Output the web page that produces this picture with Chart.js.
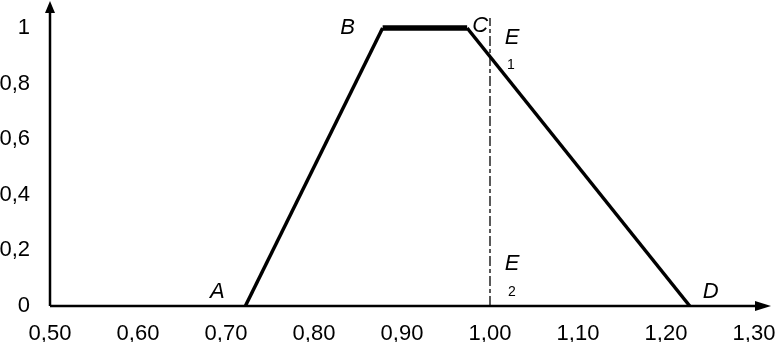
<!DOCTYPE html>
<html>
<head>
<meta charset="utf-8">
<script src="https://cdn.jsdelivr.net/npm/chart.js@4"></script>
<style>
  html, body { margin: 0; padding: 0; background: #fff; }
  canvas { display: block; }
</style>
</head>
<body>
<canvas id="myChart" width="776" height="342"></canvas>
<script>
// trapezoid A-B-C-D
const pointNames = ['A', 'B', 'C', 'D'];
const xValues = [0.722, 0.878, 0.974, 1.227];
const yValues = [0, 1, 1, 0];

// vertical dash-dot line at x = 1,00
const markerX = [1.0, 1.0];
const markerY = [0, 1.036];

const FONT = '"Liberation Sans", Arial, sans-serif';

const fmtX = (v) => v.toFixed(2).replace('.', ',');
const fmtY = (v) => (v === 0 || v === 1) ? String(v) : v.toFixed(1).replace('.', ',');

// letter labels: [text, x value, y value, dx, dy, italic, size]
const letterLabels = [
   ['A', xValues[0], yValues[0], -28, -14, true, 22],
   ['B', xValues[1], yValues[1], -35, 0, true, 22],
   ['C', xValues[2], yValues[2], 13, -2, true, 22],
   ['D', xValues[3], yValues[3], 21, -14, true, 22],
   ['E', markerX[0], 1, 22, 10, true, 22],
   ['1', markerX[0], 1, 21, 37, false, 14],
   ['E', markerX[0], 0, 22, -42, true, 22],
   ['2', markerX[0], 0, 22, -14, false, 14],
];

const axesPlugin = {
   id: 'axes',
   afterDatasetsDraw(chart) {
      const c = chart.ctx;
      const a = chart.chartArea;
      const x0 = a.left, y0 = a.bottom;
      c.save();
      c.strokeStyle = '#000';
      c.fillStyle = '#000';
      c.lineWidth = 2.5;
      c.beginPath();
      c.moveTo(x0, y0);
      c.lineTo(x0, 8);
      c.moveTo(x0, y0);
      c.lineTo(762, y0);
      c.stroke();
      // arrow heads
      c.beginPath();
      c.moveTo(x0, 1);
      c.lineTo(x0 - 5, 13);
      c.lineTo(x0 + 5, 13);
      c.closePath();
      c.fill();
      c.beginPath();
      c.moveTo(771, y0);
      c.lineTo(755, y0 - 5);
      c.lineTo(755, y0 + 5);
      c.closePath();
      c.fill();

      // letters
      const xs = chart.scales.x, ys = chart.scales.y;
      c.textAlign = 'center';
      c.textBaseline = 'middle';
      for (let l of letterLabels) {
         c.font = (l[5] ? 'italic ' : '') + l[6] + 'px ' + FONT;
         c.fillText(l[0], xs.getPixelForValue(l[1]) + l[3], ys.getPixelForValue(l[2]) + l[4]);
      }
      c.restore();
   }
};

const config = {
   type: 'line',
   data: {
      datasets: [
         {
            data: xValues.map((x, i) => ({ x: x, y: yValues[i] })),
            borderColor: '#000',
            borderWidth: 3.5,
            pointRadius: 0,
            tension: 0,
            clip: false,
            borderJoinStyle: 'miter',
            segment: {
               borderWidth: (ctx) => (ctx.p0.parsed.y === 1 && ctx.p1.parsed.y === 1) ? 5.5 : 3.5
            }
         },
         {
            data: markerX.map((x, i) => ({ x: x, y: markerY[i] })),
            borderColor: '#000',
            borderWidth: 1.3,
            borderDash: [10, 3, 4, 3],
            pointRadius: 0,
            clip: false
         }
      ]
   },
   plugins: [axesPlugin],
   options: {
      responsive: false,
      animation: false,
      devicePixelRatio: 1,
      layout: { padding: { top: 28, right: 22, left: 0, bottom: 0 } },
      plugins: { legend: { display: false }, tooltip: { enabled: false } },
      scales: {
         x: {
            type: 'linear',
            min: 0.5,
            max: 1.3,
            afterFit: (s) => { s.height = 36; s.paddingLeft = 0; s.paddingRight = 0; },
            grid: { display: false, drawTicks: false },
            border: { display: false },
            ticks: {
               stepSize: 0.1,
               padding: 15,
               color: '#000',
               maxRotation: 0,
               autoSkip: false,
               font: { family: FONT, size: 22 },
               callback: (v) => fmtX(v)
            }
         },
         y: {
            min: 0,
            max: 1,
            afterFit: (s) => { s.width = 50; s.paddingTop = 0; s.paddingBottom = 0; },
            grid: { display: false, drawTicks: false },
            border: { display: false },
            ticks: {
               stepSize: 0.2,
               padding: 20,
               color: '#000',
               font: { family: FONT, size: 22 },
               callback: (v) => fmtY(v)
            }
         }
      }
   }
};

const ctx = document.getElementById('myChart').getContext('2d');
const myChart = new Chart(ctx, config);
</script>
</body>
</html>
